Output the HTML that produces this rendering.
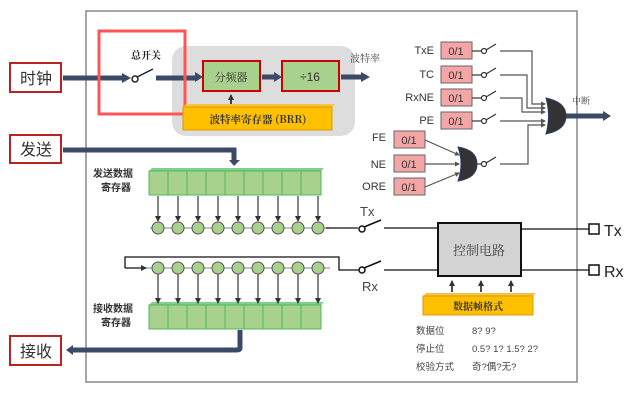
<!DOCTYPE html>
<html><head><meta charset="utf-8"><style>
html,body{margin:0;padding:0;background:#fff;width:638px;height:402px;overflow:hidden}
text{font-family:"Liberation Sans","Noto Sans CJK SC",sans-serif}
.cj{font-family:"Noto Serif CJK SC","Noto Sans CJK SC",serif}
.mono{font-family:"Liberation Mono",monospace}
</style></head><body>
<svg width="638" height="402" viewBox="0 0 638 402" xmlns="http://www.w3.org/2000/svg">
<defs>
<marker id="ah" markerWidth="6" markerHeight="6" refX="5" refY="3" orient="auto" markerUnits="userSpaceOnUse"><path d="M0,0 L6,3 L0,6 z" fill="#333"/></marker>
<marker id="ahs" markerWidth="5" markerHeight="5" refX="4" refY="2.5" orient="auto" markerUnits="userSpaceOnUse"><path d="M0,0 L5,2.5 L0,5 z" fill="#555"/></marker>
</defs>
<!-- main frame -->
<rect x="86" y="11" width="491" height="371" fill="none" stroke="#888" stroke-width="1.5"/>
<!-- gray region -->
<rect x="172" y="46" width="183" height="90" rx="14" fill="#ddd"/>
<!-- left boxes -->
<g fill="#fff" stroke="#b22" stroke-width="2">
<rect x="10" y="63" width="51" height="29"/><rect x="10" y="135" width="51" height="28"/><rect x="10" y="336" width="51" height="29"/></g>
<g class="cj" font-size="16" fill="#333" text-anchor="middle">
<text x="36" y="84">时钟</text><text x="36" y="155">发送</text><text x="36" y="357">接收</text></g>
<!-- clock path -->
<g stroke="#3b4a66" stroke-width="5" fill="none">
<line x1="63" y1="78" x2="124" y2="78"/><line x1="156" y1="78" x2="196" y2="78"/>
<line x1="262" y1="77" x2="275" y2="77"/><line x1="341" y1="77" x2="362" y2="77"/>
<path d="M63,150 H234 V160"/><path d="M240,330 V348 Q240,350 236,350 H72"/>
<line x1="566" y1="116" x2="604" y2="116"/></g>
<g fill="#3b4a66">
<path d="M122,73 L131,78 L122,83z"/><path d="M195,72 L203,77 L195,82z"/><path d="M274,72 L282,77 L274,82z"/><path d="M361,72 L370,77 L361,82z"/>
<path d="M229,160 L234,166 L240,160z"/><path d="M73,345 L66,350 L73,355z"/><path d="M603,111 L611,116 L603,121z"/></g>
<!-- master switch -->
<circle cx="135" cy="79" r="3" fill="#fff" stroke="#222" stroke-width="1.5"/>
<line x1="137" y1="77" x2="153" y2="69" stroke="#222" stroke-width="1.5"/>
<text x="131" y="59" class="cj" font-size="10" font-weight="bold" fill="#222">总开关</text>
<!-- red highlight -->
<rect x="99" y="31" width="86" height="83" fill="none" stroke="#f55" stroke-width="3"/>
<!-- divider boxes -->
<rect x="203" y="61" width="57" height="30" fill="#a9d18e" stroke="#c00" stroke-width="2"/>
<rect x="282" y="61" width="57" height="30" fill="#a9d18e" stroke="#c00" stroke-width="2"/>
<text x="231" y="81" class="cj" font-size="11" fill="#333" text-anchor="middle">分频器</text>
<text x="310" y="81" font-size="12" fill="#333" text-anchor="middle">÷16</text>
<line x1="231" y1="105" x2="231" y2="95" stroke="#111" stroke-width="1.5" marker-end="url(#ah)"/>
<path d="M183,107 L186,104 L335,104 L332,107z" fill="#f6c342"/>
<rect x="183" y="107" width="149" height="23" fill="#ffc000" stroke="#e09a00"/>
<text x="258" y="123" class="cj" font-size="10.5" font-weight="bold" fill="#333" text-anchor="middle">波特率寄存器 (BRR)</text>
<text x="350" y="62" class="cj" font-size="10" fill="#444">波特率</text>
<!-- flags -->
<g font-size="11" fill="#333" text-anchor="end">
<text x="434" y="54">TxE</text><text x="434" y="78">TC</text><text x="434" y="101">RxNE</text><text x="434" y="124">PE</text>
<text x="386" y="141">FE</text><text x="386" y="168">NE</text><text x="386" y="190">ORE</text></g>
<g fill="#f4a6a6" stroke="#666" stroke-width="1">
<rect x="441" y="42" width="31" height="17"/><rect x="441" y="66" width="31" height="17"/><rect x="441" y="89" width="31" height="17"/><rect x="441" y="112" width="31" height="17"/>
<rect x="394" y="131" width="31" height="17"/><rect x="394" y="155" width="31" height="17"/><rect x="394" y="178" width="31" height="17"/></g>
<g class="mono" font-size="11" fill="#333" text-anchor="middle">
<text x="456" y="55">0/1</text><text x="456" y="79">0/1</text><text x="456" y="102">0/1</text><text x="456" y="125">0/1</text>
<text x="409" y="144">0/1</text><text x="409" y="168">0/1</text><text x="409" y="191">0/1</text></g>
<g stroke="#333" stroke-width="1.2" fill="#fff">
<line x1="472" y1="51" x2="481" y2="51"/><circle cx="484" cy="51" r="2.5"/><line x1="486" y1="50" x2="496" y2="44"/>
<line x1="472" y1="75" x2="481" y2="75"/><circle cx="484" cy="75" r="2.5"/><line x1="486" y1="74" x2="496" y2="68"/>
<line x1="472" y1="98" x2="481" y2="98"/><circle cx="484" cy="98" r="2.5"/><line x1="486" y1="97" x2="496" y2="91"/>
<line x1="472" y1="121" x2="481" y2="121"/><circle cx="484" cy="121" r="2.5"/><line x1="486" y1="120" x2="496" y2="114"/>
<line x1="475" y1="164" x2="481" y2="164"/><circle cx="484" cy="164" r="2.5"/><line x1="486" y1="163" x2="496" y2="157"/></g>
<g stroke="#555" stroke-width="1.2" fill="none">
<path d="M500,51 H532 V104 H545" marker-end="url(#ahs)"/>
<path d="M500,75 H527 V108 H545" marker-end="url(#ahs)"/>
<path d="M500,98 H522 V112 H545" marker-end="url(#ahs)"/>
<path d="M500,121 H545" marker-end="url(#ahs)"/>
<path d="M500,164 H528 V125 H545" marker-end="url(#ahs)"/>
<line x1="425" y1="140" x2="459" y2="155" marker-end="url(#ahs)"/>
<line x1="425" y1="164" x2="459" y2="164" marker-end="url(#ahs)"/>
<line x1="425" y1="187" x2="459" y2="173" marker-end="url(#ahs)"/></g>
<path d="M546,98 Q566,102 566,116 Q566,130 546,134 Q551,116 546,98z" fill="#333" stroke="#2a3d66"/>
<path d="M458,147 Q477,150 477,164 Q477,178 458,181 Q464,164 458,147z" fill="#333" stroke="#2a3d66"/>
<text x="572" y="104" class="cj" font-size="9" fill="#444">中断</text>
<!-- registers -->
<path d="M149,171 L152,168 L324,168 L321,171z" fill="#7fd08a"/>
<rect x="149" y="171" width="172" height="24" fill="#a9d18e" stroke="#4cb85c"/>
<path d="M149,305 L152,302 L324,302 L321,305z" fill="#7fd08a"/>
<rect x="149" y="305" width="172" height="24" fill="#a9d18e" stroke="#4cb85c"/>
<g stroke="#4cb85c"><line x1="168" y1="171" x2="168" y2="195"/><line x1="187" y1="171" x2="187" y2="195"/><line x1="206" y1="171" x2="206" y2="195"/><line x1="225" y1="171" x2="225" y2="195"/><line x1="244" y1="171" x2="244" y2="195"/><line x1="263" y1="171" x2="263" y2="195"/><line x1="282" y1="171" x2="282" y2="195"/><line x1="301" y1="171" x2="301" y2="195"/>
<line x1="168" y1="305" x2="168" y2="329"/><line x1="187" y1="305" x2="187" y2="329"/><line x1="206" y1="305" x2="206" y2="329"/><line x1="225" y1="305" x2="225" y2="329"/><line x1="244" y1="305" x2="244" y2="329"/><line x1="263" y1="305" x2="263" y2="329"/><line x1="282" y1="305" x2="282" y2="329"/><line x1="301" y1="305" x2="301" y2="329"/></g>
<g class="cj" font-size="10" font-weight="bold" fill="#333">
<text x="93" y="177">发送数据</text><text x="101" y="191">寄存器</text>
<text x="93" y="312">接收数据</text><text x="101" y="326">寄存器</text></g>
<!-- shift chains -->
<g stroke="#333" stroke-width="1.2">
<line x1="158" y1="196" x2="158" y2="221" marker-end="url(#ah)"/><line x1="178" y1="196" x2="178" y2="221" marker-end="url(#ah)"/><line x1="198" y1="196" x2="198" y2="221" marker-end="url(#ah)"/><line x1="218" y1="196" x2="218" y2="221" marker-end="url(#ah)"/><line x1="238" y1="196" x2="238" y2="221" marker-end="url(#ah)"/><line x1="258" y1="196" x2="258" y2="221" marker-end="url(#ah)"/><line x1="278" y1="196" x2="278" y2="221" marker-end="url(#ah)"/><line x1="298" y1="196" x2="298" y2="221" marker-end="url(#ah)"/><line x1="318" y1="196" x2="318" y2="221" marker-end="url(#ah)"/>
<line x1="158" y1="274" x2="158" y2="303" marker-end="url(#ah)"/><line x1="178" y1="274" x2="178" y2="303" marker-end="url(#ah)"/><line x1="198" y1="274" x2="198" y2="303" marker-end="url(#ah)"/><line x1="218" y1="274" x2="218" y2="303" marker-end="url(#ah)"/><line x1="238" y1="274" x2="238" y2="303" marker-end="url(#ah)"/><line x1="258" y1="274" x2="258" y2="303" marker-end="url(#ah)"/><line x1="278" y1="274" x2="278" y2="303" marker-end="url(#ah)"/><line x1="298" y1="274" x2="298" y2="303" marker-end="url(#ah)"/><line x1="318" y1="274" x2="318" y2="303" marker-end="url(#ah)"/>
<line x1="150" y1="228" x2="330" y2="228" stroke="#999"/><line x1="143" y1="268" x2="330" y2="268" stroke="#999"/></g>
<g fill="#a9d18e" stroke="#555">
<circle cx="158" cy="228" r="6"/><circle cx="178" cy="228" r="6"/><circle cx="198" cy="228" r="6"/><circle cx="218" cy="228" r="6"/><circle cx="238" cy="228" r="6"/><circle cx="258" cy="228" r="6"/><circle cx="278" cy="228" r="6"/><circle cx="298" cy="228" r="6"/><circle cx="318" cy="228" r="6"/>
<circle cx="158" cy="268" r="6"/><circle cx="178" cy="268" r="6"/><circle cx="198" cy="268" r="6"/><circle cx="218" cy="268" r="6"/><circle cx="238" cy="268" r="6"/><circle cx="258" cy="268" r="6"/><circle cx="278" cy="268" r="6"/><circle cx="298" cy="268" r="6"/><circle cx="318" cy="268" r="6"/></g>
<g stroke="#111" stroke-width="1.3" fill="none">
<path d="M326,228 H358"/><path d="M125,268 V257 H339 V270 H359"/><line x1="125" y1="268" x2="146" y2="268" marker-end="url(#ah)"/>
<line x1="384" y1="228" x2="437" y2="228"/><line x1="384" y1="270" x2="437" y2="270"/>
<line x1="521" y1="229" x2="589" y2="229"/><line x1="521" y1="270" x2="589" y2="270"/></g>
<g stroke="#111" stroke-width="1.5" fill="#fff">
<circle cx="362" cy="229" r="3"/><line x1="364" y1="227" x2="381" y2="220"/>
<circle cx="362" cy="270" r="3"/><line x1="364" y1="268" x2="381" y2="261"/>
<rect x="589" y="224" width="10" height="10"/><rect x="589" y="265" width="10" height="10"/></g>
<text x="360" y="216" font-size="13" fill="#444">Tx</text><text x="362" y="291" font-size="13" fill="#444">Rx</text>
<text x="604" y="236" font-size="16" fill="#222">Tx</text><text x="604" y="277" font-size="16" fill="#222">Rx</text>
<!-- control -->
<rect x="438" y="223" width="83" height="53" fill="#d4d4d4" stroke="#111" stroke-width="2"/>
<text x="479" y="255" class="cj" font-size="13" fill="#444" text-anchor="middle">控制电路</text>
<g stroke="#111" stroke-width="1.5"><line x1="452" y1="292" x2="452" y2="281" marker-end="url(#ah)"/><line x1="481" y1="292" x2="481" y2="281" marker-end="url(#ah)"/><line x1="511" y1="292" x2="511" y2="281" marker-end="url(#ah)"/></g>
<path d="M423,296 L426,293 L536,293 L533,296z" fill="#f6c342"/>
<rect x="423" y="296" width="110" height="19" fill="#ffc000" stroke="#e09a00"/>
<text x="478" y="310" class="cj" font-size="10" font-weight="bold" fill="#333" text-anchor="middle">数据帧格式</text>
<g class="cj" font-size="9.5" fill="#444">
<text x="416" y="334">数据位</text><text x="472" y="334">8? 9?</text>
<text x="416" y="352">停止位</text><text x="472" y="352">0.5? 1? 1.5? 2?</text>
<text x="416" y="370">校验方式</text><text x="472" y="370">奇?偶?无?</text></g>
</svg>
</body></html>
